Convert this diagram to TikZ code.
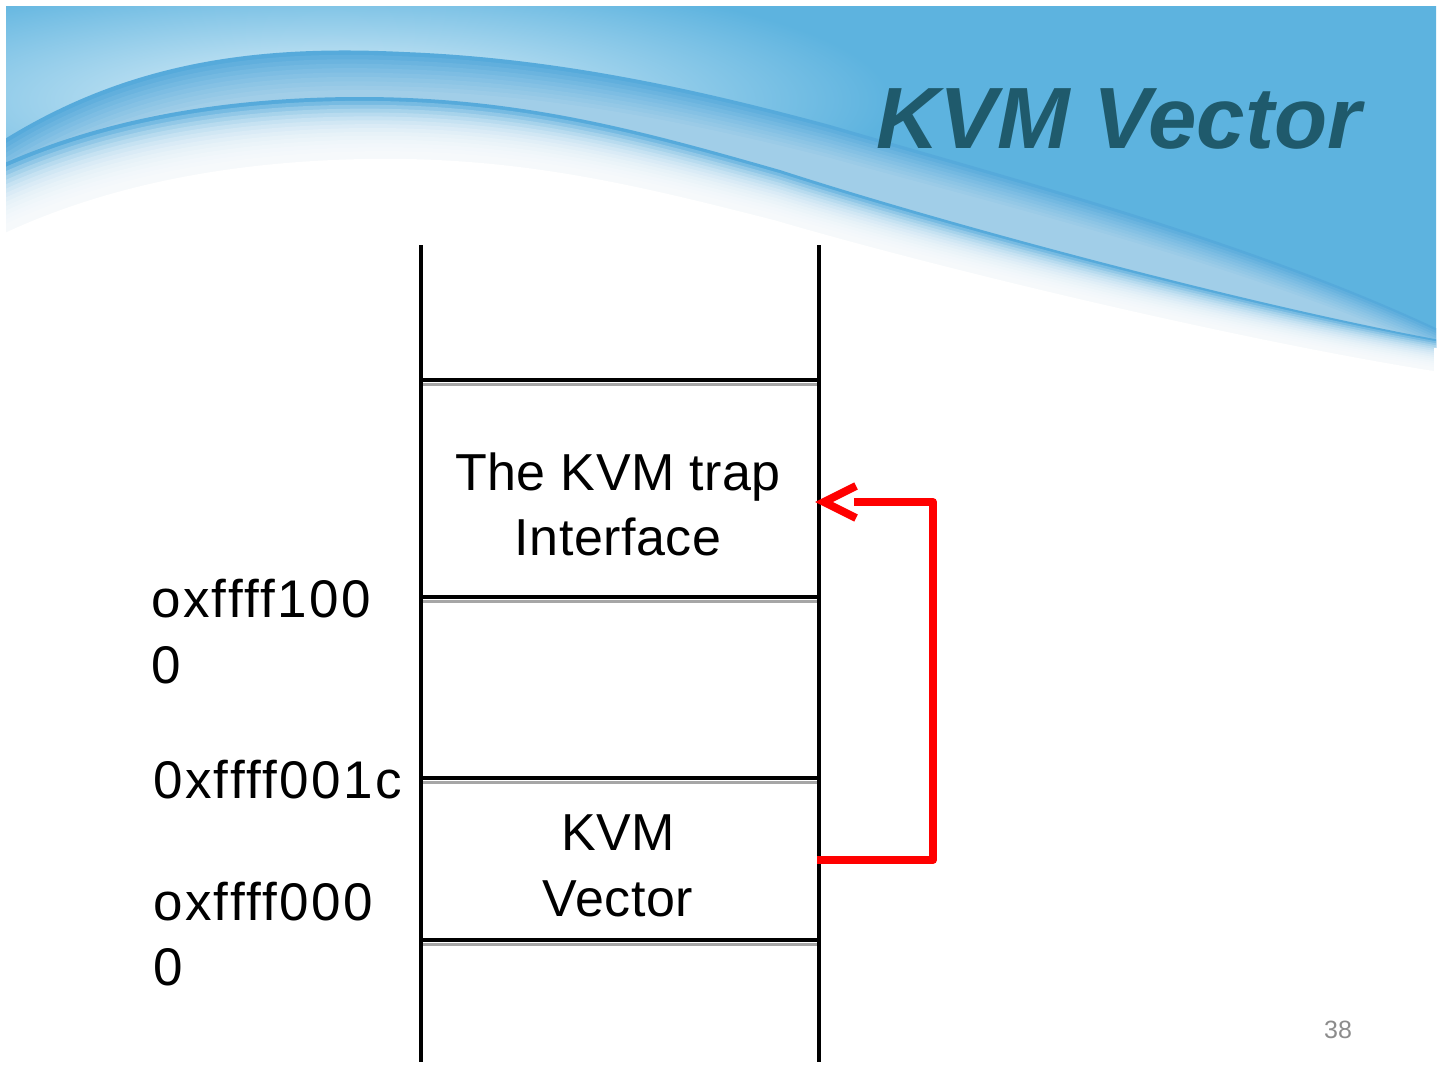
\documentclass[tikz,border=0pt]{standalone}
\usepackage{fontspec}
\setmainfont{Liberation Sans}
\usetikzlibrary{arrows.meta}
\definecolor{hdrblue}{HTML}{5DB3DF}
\definecolor{edgeblue}{HTML}{56AADB}
\definecolor{glowwhite}{HTML}{E4F3FA}
\definecolor{titleteal}{HTML}{1F5A6C}
\definecolor{pagegray}{HTML}{8C8C8C}
\definecolor{shadowgray}{HTML}{A6A6A6}
\definecolor{arrowred}{HTML}{FF0000}
\tikzset{
  Upath/.style={insert path={(0,142) .. controls (130,60) and (260,45) .. (404,52) .. controls (560,58) and (700,90) .. (830,125) .. controls (1000,175) and (1250,240) .. (1440,330)}},
  Lpath/.style={insert path={(0,165) .. controls (100,120) and (220,97) .. (360,97) .. controls (520,97) and (640,130) .. (780,170) .. controls (950,225) and (1250,305) .. (1440,340)}},
  wall/.style={line width=3.5pt, black},
  divider/.style={line width=4pt, black},
  dividershadow/.style={line width=3pt, shadowgray},
  celltext/.style={font=\fontsize{52}{65}\selectfont\addfontfeatures{LetterSpace=1}, inner sep=0pt, anchor=base},
  addrtext/.style={font=\fontsize{53}{65}\selectfont\addfontfeatures{LetterSpace=4.5}, inner sep=0pt, anchor=base west},
  redline/.style={line width=8pt, arrowred, line join=round},
  redtip/.style={line width=8pt, arrowred, line join=miter},
}
\begin{document}
\begin{tikzpicture}[x=1pt,y=-1pt]
\useasboundingbox (0,0) rectangle (1440,1080);
\fill[white] (0,0) rectangle (1440,1080);
% header background
\begin{scope}
  \clip (6,6) rectangle (1436,1074);
  \fill[hdrblue] (0,0) rectangle (1440,420);
  \shade[inner color=glowwhite, outer color=hdrblue] (330,100) ellipse [x radius=560, y radius=130];
  \fill[edgeblue] [Upath] -- (1440,420) -- (0,420) -- cycle;
  \foreach \k in {1,...,9} {
    \fill[white, fill opacity=0.065, yshift=-\k*2.5pt, rotate around={\k*0.1:(1440,330)}] [Upath] -- (1600,330) -- (1600,1200) -- (-300,1200) -- (-300,142) -- cycle;
  }
  \fill[edgeblue] [Lpath] -- (1440,420) -- (0,420) -- cycle;
  \foreach \k in {1,...,14} {
    \fill[white, fill opacity=0.2, yshift=-\k*2pt, rotate around={\k*0.1:(1440,340)}] [Lpath] -- (1600,340) -- (1600,1200) -- (-300,1200) -- (-300,165) -- cycle;
  }
  \fill[white, yshift=-32pt, rotate around={1.6:(1440,340)}] [Lpath] -- (1600,340) -- (1600,1200) -- (-300,1200) -- (-300,165) -- cycle;
  \fill[white] (0,440) rectangle (1440,1080);
\end{scope}
\fill[white] (1434,348) rectangle (1440,1080);
% title
\node[font=\fontsize{87}{87}\selectfont\bfseries\itshape, text=titleteal, inner sep=0pt, anchor=base west] (title) at (876,148) {KVM Vector};
% memory diagram
\foreach \yy in {380,597,778,940} {
  \draw[dividershadow] (421,\yy+4) -- (819,\yy+4);
  \draw[divider] (421,\yy) -- (819,\yy);
}
\draw[wall] (421,245) -- (421,1062);
\draw[wall] (819,245) -- (819,1062);
\node[celltext] (trap1) at (618,490) {The KVM trap};
\node[celltext] (trap2) at (618,555) {Interface};
\node[celltext] (vec1) at (618,850) {KVM};
\node[celltext] (vec2) at (618,916) {Vector};
\node[addrtext] (a1) at (151,617) {oxffff100};
\node[addrtext] (a1b) at (151,683) {0};
\node[addrtext] (a2) at (153,798) {0xffff001c};
\node[addrtext] (a3) at (153,920) {oxffff000};
\node[addrtext] (a3b) at (153,985) {0};
% arrow
\coordinate (src) at (817,860);
\coordinate (dst) at (824,502);
\draw[redline, shorten >=30pt] (src) -- ++(116,0) |- (dst);
\draw[redtip] (dst) ++(32,-16) -- (dst) -- ++(32,16);
% page number
\node[font=\fontsize{25}{25}\selectfont, text=pagegray, inner sep=0pt, anchor=base] (pg) at (1338,1038) {38};
\end{tikzpicture}
\end{document}
